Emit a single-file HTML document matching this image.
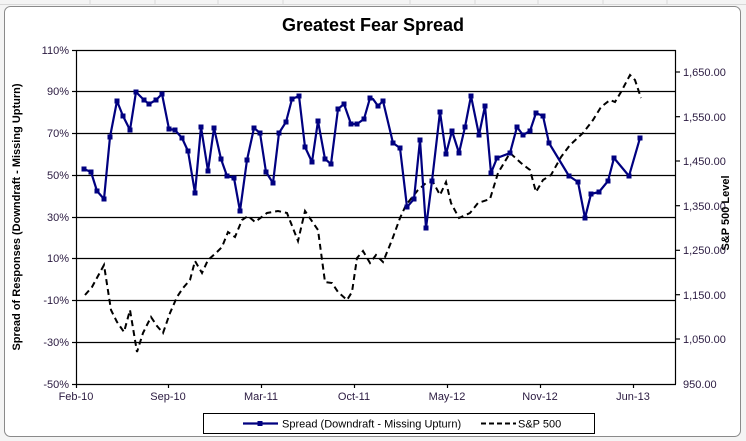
<!DOCTYPE html>
<html><head><meta charset="utf-8"><style>
body{margin:0;background:#fff;}
svg{display:block;font-family:"Liberation Sans",Arial,sans-serif;}
</style></head><body>
<svg width="746" height="441" viewBox="0 0 746 441">
<rect width="746" height="441" fill="#f4f4f4"/>
<g stroke="#d8d8d8" stroke-width="1">
<line x1="0" y1="4.5" x2="746" y2="4.5"/>
<line x1="90" y1="0" x2="90" y2="5"/><line x1="155" y1="0" x2="155" y2="5"/><line x1="218" y1="0" x2="218" y2="5"/><line x1="283" y1="0" x2="283" y2="5"/><line x1="410" y1="0" x2="410" y2="5"/><line x1="475" y1="0" x2="475" y2="5"/><line x1="538" y1="0" x2="538" y2="5"/><line x1="603" y1="0" x2="603" y2="5"/><line x1="667" y1="0" x2="667" y2="5"/>
</g>
<rect x="4.5" y="6.5" width="736" height="430" rx="6" fill="#fff" stroke="#8a8a8a" stroke-width="1"/>
<text x="373" y="31" text-anchor="middle" font-size="18" font-weight="bold">Greatest Fear Spread</text>
<g stroke="#000" stroke-width="1.2">
<line x1="76" y1="50.5" x2="676" y2="50.5"/>
<line x1="76" y1="91.5" x2="676" y2="91.5"/>
<line x1="76" y1="133.5" x2="676" y2="133.5"/>
<line x1="76" y1="175.5" x2="676" y2="175.5"/>
<line x1="76" y1="217.5" x2="676" y2="217.5"/>
<line x1="76" y1="258.5" x2="676" y2="258.5"/>
<line x1="76" y1="300.5" x2="676" y2="300.5"/>
<line x1="76" y1="342.5" x2="676" y2="342.5"/>
<line x1="76" y1="384.5" x2="676" y2="384.5"/>
<line x1="76.5" y1="50" x2="76.5" y2="384"/>
<line x1="675.5" y1="50" x2="675.5" y2="384"/>
<line x1="72" y1="50.5" x2="76" y2="50.5"/><line x1="72" y1="91.5" x2="76" y2="91.5"/><line x1="72" y1="133.5" x2="76" y2="133.5"/><line x1="72" y1="175.5" x2="76" y2="175.5"/><line x1="72" y1="217.5" x2="76" y2="217.5"/><line x1="72" y1="258.5" x2="76" y2="258.5"/><line x1="72" y1="300.5" x2="76" y2="300.5"/><line x1="72" y1="342.5" x2="76" y2="342.5"/><line x1="72" y1="384.5" x2="76" y2="384.5"/>
<line x1="676" y1="72" x2="680" y2="72"/><line x1="676" y1="116.7" x2="680" y2="116.7"/><line x1="676" y1="161" x2="680" y2="161"/><line x1="676" y1="205.7" x2="680" y2="205.7"/><line x1="676" y1="250.3" x2="680" y2="250.3"/><line x1="676" y1="294.7" x2="680" y2="294.7"/><line x1="676" y1="339" x2="680" y2="339"/>
<line x1="76.5" y1="384" x2="76.5" y2="388"/><line x1="168.5" y1="384" x2="168.5" y2="388"/><line x1="261.5" y1="384" x2="261.5" y2="388"/><line x1="354.5" y1="384" x2="354.5" y2="388"/><line x1="447.5" y1="384" x2="447.5" y2="388"/><line x1="540.5" y1="384" x2="540.5" y2="388"/><line x1="633.5" y1="384" x2="633.5" y2="388"/>
</g>
<g font-size="11" fill="#2a1a40" text-anchor="end">
<text x="69" y="54">110%</text><text x="69" y="95">90%</text><text x="69" y="137">70%</text><text x="69" y="179">50%</text><text x="69" y="221">30%</text><text x="69" y="262">10%</text><text x="69" y="304">-10%</text><text x="69" y="346">-30%</text><text x="69" y="388">-50%</text>
</g>
<g font-size="11" fill="#2a1a40" text-anchor="start">
<text x="683" y="76">1,650.00</text><text x="683" y="121">1,550.00</text><text x="683" y="165">1,450.00</text><text x="683" y="210">1,350.00</text><text x="683" y="254">1,250.00</text><text x="683" y="299">1,150.00</text><text x="683" y="343">1,050.00</text><text x="683" y="388">950.00</text>
</g>
<g font-size="11" fill="#2a1a40" text-anchor="middle">
<text x="76" y="400">Feb-10</text><text x="168" y="400">Sep-10</text><text x="261" y="400">Mar-11</text><text x="354" y="400">Oct-11</text><text x="447" y="400">May-12</text><text x="540" y="400">Nov-12</text><text x="633" y="400">Jun-13</text>
</g>
<text transform="translate(20,217) rotate(-90)" text-anchor="middle" font-size="11" font-weight="bold">Spread of Responses (Downdraft - Missing Upturn)</text>
<text transform="translate(729,213) rotate(-90)" text-anchor="middle" font-size="11" font-weight="bold">S&amp;P 500 Level</text>
<polyline fill="none" stroke="#000" stroke-width="2" stroke-dasharray="6,4" points="85,295 92,287 104,265 111,310 117,322 124,332 130,310 137,352 143,333 151,317 157,326 163,333 170,313 177,297 183,288 190,280 195,261 202,273 208,260 217,252 222,247 228,232 235,237 242,220 248,216 255,222 267,213 278,211 287,213 298,241 305,211 318,230 325,282 332,283 338,292 347,300 352,292 357,258 363,251 370,263 376,255 383,262 392,240 400,218 406,205 418,190 426,183 433,182 440,195 446,182 451,203 459,218 470,213 478,203 490,199 498,173 510,153 521,163 530,170 536,192 543,180 551,175 561,157 570,145 583,133 593,120 601,107 610,100 615,102 621,92 630,75 635,80 641,98"/>
<g id="sp">
<polyline fill="none" stroke="#000080" stroke-width="2.2" stroke-linejoin="round" points="84,169 91,172 97,191 104,199 110,137 117,101 123,116 130,130 136,92 144,100 149,104 156,100 162,94 169,129 175,130 182,138 188,151 195,193 201,127 208,171 214,128 221,159 227,176 234,178 240,211 247,160 254,128 260,133 266,172 273,183 279,133 286,122 292,99 299,96 305,147 312,162 318,121 325,159 331,164 338,109 344,104 351,124 357,124 364,119 370,98 373,99 378,106 383,101 393,143 400,148 407,207 414,199 420,140 426,228 432,181 440,112 446,154 452,131 459,153 465,127 471,96 479,135 485,106 491,173 497,158 510,153 517,127 523,135 530,131 536,113 543,116 549,143 569,176 578,182 585,218 591,194 599,192 608,181 614,158 629,176 640,138"/>
</g>
<g fill="#000080">
<path d="M84,169h0M0,0" />
</g>
<g fill="#000080" id="marks"></g>
<rect x="203.5" y="413.5" width="391" height="20" fill="#fff" stroke="#000" stroke-width="1"/>
<line x1="243" y1="423.5" x2="278" y2="423.5" stroke="#000080" stroke-width="2.2"/>
<rect x="257.5" y="421" width="5" height="5" fill="#000080"/>
<text x="282" y="427.5" font-size="11">Spread (Downdraft - Missing Upturn)</text>
<line x1="481" y1="423.5" x2="516" y2="423.5" stroke="#000" stroke-width="2" stroke-dasharray="5,3"/>
<text x="518" y="427.5" font-size="11">S&amp;P 500</text>
<g fill="#000080">
<rect x="81.5" y="166.5" width="5" height="5"/><rect x="88.5" y="169.5" width="5" height="5"/><rect x="94.5" y="188.5" width="5" height="5"/><rect x="101.5" y="196.5" width="5" height="5"/><rect x="107.5" y="134.5" width="5" height="5"/><rect x="114.5" y="98.5" width="5" height="5"/><rect x="120.5" y="113.5" width="5" height="5"/><rect x="127.5" y="127.5" width="5" height="5"/><rect x="133.5" y="89.5" width="5" height="5"/><rect x="141.5" y="97.5" width="5" height="5"/><rect x="146.5" y="101.5" width="5" height="5"/><rect x="153.5" y="97.5" width="5" height="5"/><rect x="159.5" y="91.5" width="5" height="5"/><rect x="166.5" y="126.5" width="5" height="5"/><rect x="172.5" y="127.5" width="5" height="5"/><rect x="179.5" y="135.5" width="5" height="5"/><rect x="185.5" y="148.5" width="5" height="5"/><rect x="192.5" y="190.5" width="5" height="5"/><rect x="198.5" y="124.5" width="5" height="5"/><rect x="205.5" y="168.5" width="5" height="5"/><rect x="211.5" y="125.5" width="5" height="5"/><rect x="218.5" y="156.5" width="5" height="5"/><rect x="224.5" y="173.5" width="5" height="5"/><rect x="231.5" y="175.5" width="5" height="5"/><rect x="237.5" y="208.5" width="5" height="5"/><rect x="244.5" y="157.5" width="5" height="5"/><rect x="251.5" y="125.5" width="5" height="5"/><rect x="257.5" y="130.5" width="5" height="5"/><rect x="263.5" y="169.5" width="5" height="5"/><rect x="270.5" y="180.5" width="5" height="5"/><rect x="276.5" y="130.5" width="5" height="5"/><rect x="283.5" y="119.5" width="5" height="5"/><rect x="289.5" y="96.5" width="5" height="5"/><rect x="296.5" y="93.5" width="5" height="5"/><rect x="302.5" y="144.5" width="5" height="5"/><rect x="309.5" y="159.5" width="5" height="5"/><rect x="315.5" y="118.5" width="5" height="5"/><rect x="322.5" y="156.5" width="5" height="5"/><rect x="328.5" y="161.5" width="5" height="5"/><rect x="335.5" y="106.5" width="5" height="5"/><rect x="341.5" y="101.5" width="5" height="5"/><rect x="348.5" y="121.5" width="5" height="5"/><rect x="354.5" y="121.5" width="5" height="5"/><rect x="361.5" y="116.5" width="5" height="5"/><rect x="367.5" y="95.5" width="5" height="5"/><rect x="375.5" y="103.5" width="5" height="5"/><rect x="380.5" y="98.5" width="5" height="5"/><rect x="390.5" y="140.5" width="5" height="5"/><rect x="397.5" y="145.5" width="5" height="5"/><rect x="404.5" y="204.5" width="5" height="5"/><rect x="411.5" y="196.5" width="5" height="5"/><rect x="417.5" y="137.5" width="5" height="5"/><rect x="423.5" y="225.5" width="5" height="5"/><rect x="429.5" y="178.5" width="5" height="5"/><rect x="437.5" y="109.5" width="5" height="5"/><rect x="443.5" y="151.5" width="5" height="5"/><rect x="449.5" y="128.5" width="5" height="5"/><rect x="456.5" y="150.5" width="5" height="5"/><rect x="462.5" y="124.5" width="5" height="5"/><rect x="468.5" y="93.5" width="5" height="5"/><rect x="476.5" y="132.5" width="5" height="5"/><rect x="482.5" y="103.5" width="5" height="5"/><rect x="488.5" y="170.5" width="5" height="5"/><rect x="494.5" y="155.5" width="5" height="5"/><rect x="507.5" y="150.5" width="5" height="5"/><rect x="514.5" y="124.5" width="5" height="5"/><rect x="520.5" y="132.5" width="5" height="5"/><rect x="527.5" y="128.5" width="5" height="5"/><rect x="533.5" y="110.5" width="5" height="5"/><rect x="540.5" y="113.5" width="5" height="5"/><rect x="546.5" y="140.5" width="5" height="5"/><rect x="566.5" y="173.5" width="5" height="5"/><rect x="575.5" y="179.5" width="5" height="5"/><rect x="582.5" y="215.5" width="5" height="5"/><rect x="588.5" y="191.5" width="5" height="5"/><rect x="596.5" y="189.5" width="5" height="5"/><rect x="605.5" y="178.5" width="5" height="5"/><rect x="611.5" y="155.5" width="5" height="5"/><rect x="626.5" y="173.5" width="5" height="5"/><rect x="637.5" y="135.5" width="5" height="5"/>
</g>
</svg>
</body></html>
